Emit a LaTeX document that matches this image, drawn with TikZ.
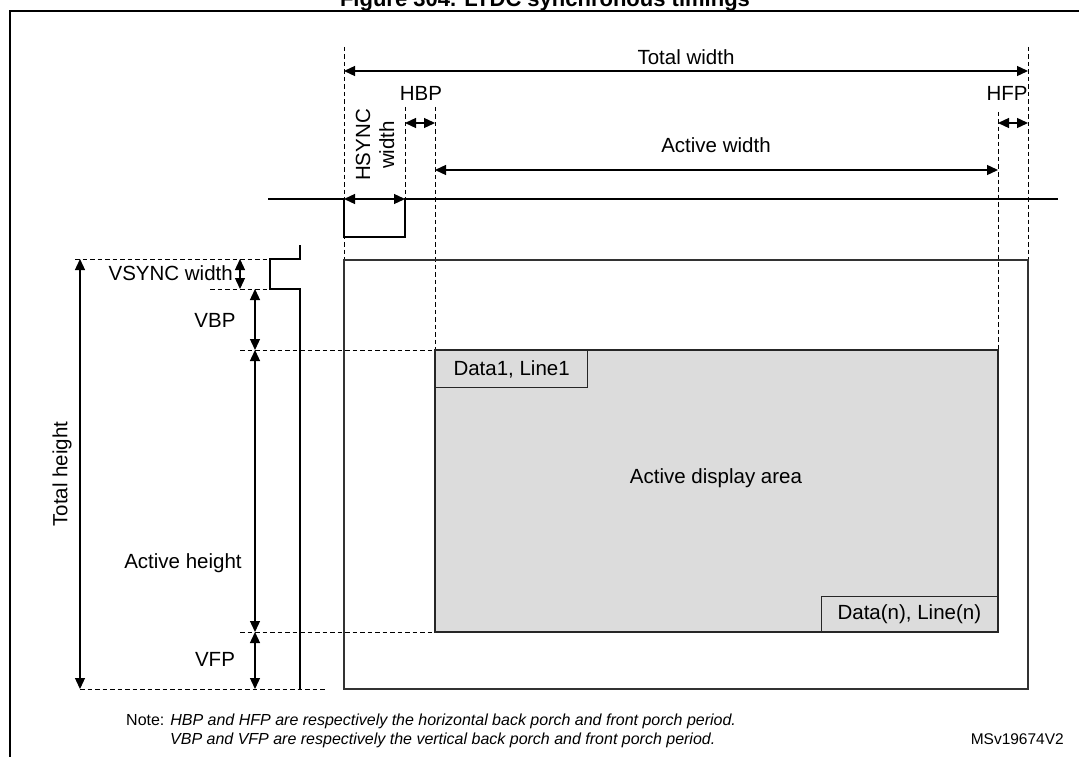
\documentclass[tikz,border=0pt]{standalone}
\usepackage{fontspec}
\setmainfont{Liberation Sans}
\usetikzlibrary{arrows.meta}
\begin{document}
\begin{tikzpicture}[x=1pt,y=-1pt,
  sig/.style={line width=2.8pt, line join=miter},
  frm/.style={line width=2.6pt},
  dim/.style={line width=1.3pt, {Triangle[length=11pt,width=10pt]}-{Triangle[length=11pt,width=10pt]}},
  guide/.style={line width=0.9pt, dash pattern=on 4.5pt off 3pt},
  lbl/.style={font=\fontsize{20.5}{24}\selectfont, inner sep=0pt},
  notefont/.style={font=\fontsize{16}{19}\selectfont, inner sep=0pt},
  area/.style={draw=black!85, line width=1.3pt, fill={rgb,255:red,220;green,220;blue,220}},
  tagbox/.style={area, font=\fontsize{20.5}{24}\selectfont, inner sep=0pt}
]
\useasboundingbox (0,0) rectangle (1079,757);

% title (cut off at the top, as in the reference)
\node[font=\bfseries\fontsize{22}{26}\selectfont, anchor=base, inner sep=0pt] (title) at (545,7) {Figure 304. LTDC synchronous timings};

% frame
\coordinate (f1) at (10,770);
\coordinate (f2) at (10,11);
\coordinate (f3) at (1090,11);
\draw[frm] (f1) -- (f2) -- (f3);

% ---------- horizontal timing ----------
\coordinate (twL) at (344,47);
\coordinate (twR) at (1028,47);
\coordinate (rTL) at (344,260);
\coordinate (rTR) at (1028,260);
\coordinate (rBR) at (1028,689);
\draw[guide] (twL) -- (rTL);
\draw[guide] (twR) -- (rTR);

\coordinate (twa) at (344,71);
\coordinate (twb) at (1028,71);
\draw[dim] (twa) -- (twb);
\node[lbl] (totw) at (686,57) {Total width};

% HSYNC signal
\coordinate (h0) at (268,199);
\coordinate (h1) at (344,199);
\coordinate (h2) at (344,237);
\coordinate (h3) at (405,237);
\coordinate (h4) at (405,199);
\coordinate (h5) at (1058,199);
\draw[sig] (h0) -- (h1) -- (h2) -- (h3) -- (h4) -- (h5);
\draw[dim] (h1) -- (h4);
\node[lbl, rotate=90, align=center, font=\fontsize{20.5}{24}\selectfont] (hsw) at (375,145) {HSYNC\\width};

% HBP
\coordinate (hbp1) at (405,107);
\coordinate (hbp2) at (435,107);
\coordinate (ga) at (435,350);
\draw[guide] (hbp1) -- (h4);
\draw[guide] (hbp2) -- (ga);
\coordinate (hbpa) at (405,123);
\coordinate (hbpb) at (435,123);
\draw[dim] (hbpa) -- (hbpb);
\node[lbl] (hbp) at (421,93) {HBP};

% HFP
\coordinate (hfp1) at (998,112);
\coordinate (gb) at (998,350);
\draw[guide] (hfp1) -- (gb);
\coordinate (hfpa) at (998,123);
\coordinate (hfpb) at (1028,123);
\draw[dim] (hfpa) -- (hfpb);
\node[lbl] (hfp) at (1007,93) {HFP};

% active width
\coordinate (awa) at (435,170);
\coordinate (awb) at (998,170);
\draw[dim] (awa) -- (awb);
\node[lbl] (aw) at (716,145) {Active width};

% ---------- frame rectangle and active area ----------
\draw[line width=1.2pt, draw=black!80] (rTL) rectangle (rBR);
\coordinate (gBR) at (998,632);
\draw[area] (ga) rectangle (gBR);
\node[tagbox, anchor=north west, minimum width=152pt, minimum height=37pt] (d1) at (ga) {Data1, Line1};
\node[tagbox, anchor=south east, minimum width=176pt, minimum height=35pt] (dn) at (gBR) {Data(n), Line(n)};
\node[lbl] (ada) at (716,478) {Active display area};

% ---------- vertical timing ----------
\coordinate (v0) at (300,245);
\coordinate (v1) at (300,259);
\coordinate (v2) at (270,259);
\coordinate (v3) at (270,289);
\coordinate (v4) at (300,289);
\coordinate (v5) at (300,689);
\draw[sig] (v0) -- (v1) -- (v2) -- (v3) -- (v4) -- (v5);

\coordinate (g1) at (75,259);
\coordinate (g2) at (210,289);
\coordinate (g3) at (240,350);
\coordinate (g4) at (240,632);
\coordinate (g4b) at (435,632);
\coordinate (g5) at (80,689);
\coordinate (g5b) at (325,689);
\draw[guide] (g1) -- (v2);
\draw[guide] (g2) -- (v3);
\draw[guide] (g3) -- (ga);
\draw[guide] (g4) -- (g4b);
\draw[guide] (g5) -- (g5b);

% total height
\coordinate (tha) at (80,259);
\coordinate (thb) at (80,689);
\draw[dim] (tha) -- (thb);
\node[lbl, rotate=90] (th) at (62,474) {Total height};

% VSYNC width
\coordinate (vsa) at (240,259);
\coordinate (vsb) at (240,289);
\draw[dim] (vsa) -- (vsb);
\node[lbl, anchor=east] (vsw) at (233,273) {VSYNC width};

% VBP / active height / VFP
\coordinate (va) at (255,289);
\coordinate (vb) at (255,350);
\coordinate (vc) at (255,632);
\coordinate (vd) at (255,689);
\draw[dim] (va) -- (vb);
\draw[dim] (vb) -- (vc);
\draw[dim] (vc) -- (vd);
\node[lbl] (vbp) at (215,320) {VBP};
\node[lbl] (ah) at (183,563) {Active height};
\node[lbl] (vfp) at (215,659) {VFP};

% ---------- notes ----------
\node[notefont, anchor=base west] (n1) at (126,725) {Note: \itshape HBP and HFP are respectively the horizontal back porch and front porch period.};
\node[notefont, anchor=base west] (n2) at (170,744) {\itshape VBP and VFP are respectively the vertical back porch and front porch period.};
\node[notefont, anchor=base east, font=\fontsize{15.5}{18}\selectfont] (ref) at (1064,744) {MSv19674V2};
\end{tikzpicture}
\end{document}
